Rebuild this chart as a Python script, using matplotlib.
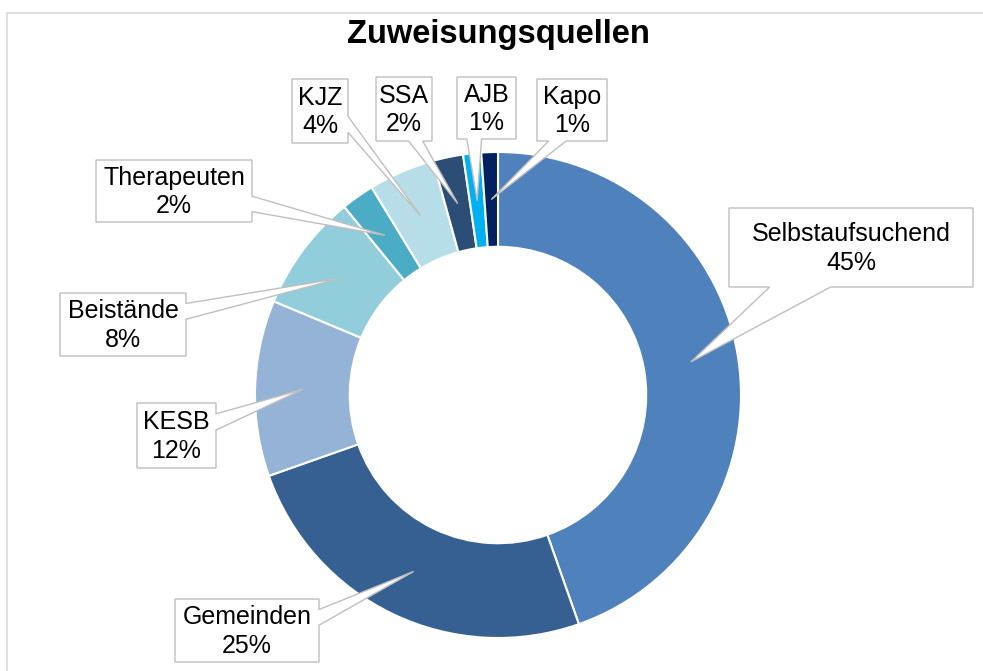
import numpy as np
import matplotlib.pyplot as plt
from matplotlib.patches import Polygon, Rectangle

plt.rcParams['font.family'] = ['Liberation Sans', 'DejaVu Sans']

categories = ['Selbstaufsuchend', 'Gemeinden', 'KESB', 'Beistände', 'Therapeuten',
              'KJZ', 'SSA', 'AJB', 'Kapo']
shares = [44.6, 25.0, 11.7, 7.8, 2.2, 4.4, 2.0, 1.2, 1.1]
colors = ['#4F81BD', '#376092', '#95B3D7', '#92CDDC', '#4BACC6',
          '#B7DEE8', '#2C4D75', '#00B0F0', '#002060']

# label boxes (pixel layout, y from top)
box_cx = [851, 247, 176.5, 123, 174, 320, 404, 486.5, 572]
box_cy = [247.5, 630.5, 435.5, 324.5, 191, 111, 109, 108, 110]
box_w = [244, 144, 79, 126, 156, 56, 56, 59, 70]
box_h = [79, 63, 65, 63, 62, 64, 64, 62, 62]

W, H = 983, 671
fig = plt.figure(figsize=(W / 100, H / 100), dpi=100)
ax = fig.add_axes([0, 0, 1, 1])

cx, cy, R = 498, H - 395, 243
wedges, _ = ax.pie(shares, colors=colors, startangle=90, counterclock=False,
                   center=(cx, cy), radius=R,
                   wedgeprops=dict(width=R * 0.39, edgecolor='white', linewidth=1.5))
ax.set_xlim(0, W)
ax.set_ylim(0, H)
ax.set_aspect('equal')
ax.axis('off')


def callout(bx, by, w, h, tx, ty):
    # Excel style rectangle callout, screen coords (y down)
    l, t, r, b = bx - w / 2, by - h / 2, bx + w / 2, by + h / 2
    dx, dy = tx - bx, ty - by
    xg1, xg2 = (7, 10) if dx > 0 else (2, 5)
    yg1, yg2 = (7, 10) if dy > 0 else (2, 5)
    x1, x2 = l + w * xg1 / 12, l + w * xg2 / 12
    y1, y2 = t + h * yg1 / 12, t + h * yg2 / 12
    dz = abs(dy) - abs(dx * h / w)
    if dz > 0:
        if dy < 0:
            pts = [(l, t), (x1, t), (tx, ty), (x2, t), (r, t), (r, b), (l, b)]
        else:
            pts = [(l, t), (r, t), (r, b), (x2, b), (tx, ty), (x1, b), (l, b)]
    else:
        if dx < 0:
            pts = [(l, t), (r, t), (r, b), (l, b), (l, y2), (tx, ty), (l, y1)]
        else:
            pts = [(l, t), (r, t), (r, y1), (tx, ty), (r, y2), (r, b), (l, b)]
    return [(px, H - py) for px, py in pts]


for i, wd in enumerate(wedges):
    mid = np.deg2rad((wd.theta1 + wd.theta2) / 2)
    tx = cx + 0.805 * R * np.cos(mid)
    ty = H - (cy + 0.805 * R * np.sin(mid))
    pts = callout(box_cx[i], box_cy[i], box_w[i], box_h[i], tx, ty)
    ax.add_patch(Polygon(pts, closed=True, facecolor='white', edgecolor='#BFBFBF',
                         linewidth=1.0, zorder=3))
    ax.text(box_cx[i], H - box_cy[i] - 1, '{}\n{:.0f}%'.format(categories[i], shares[i]),
            ha='center', va='center', fontsize=18, linespacing=1.26, zorder=4)

# chart area border
ax.add_patch(Rectangle((6.5, -20), W, H - 12.5 + 20, fill=False,
                       edgecolor='#D9D9D9', linewidth=1.2, clip_on=False))

fig.text(498 / W, 1 - 43 / H, 'Zuweisungsquellen', ha='center', va='baseline',
         fontsize=23.5, fontweight='bold')

plt.savefig('out.png', dpi=100)
